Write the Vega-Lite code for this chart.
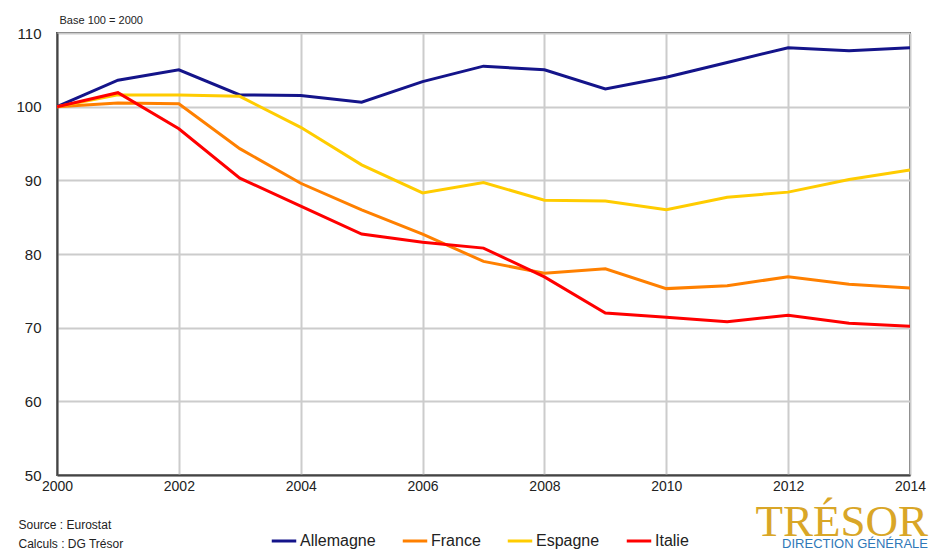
{
  "$schema": "https://vega.github.io/schema/vega-lite/v6.json",
  "width": 853,
  "height": 442,
  "autosize": {"type": "none"},
  "padding": {"left": 57, "top": 33, "right": 20, "bottom": 76},
  "background": "white",
  "config": {
    "font": "Liberation Sans",
    "view": {"stroke": "#555555", "strokeWidth": 2}
  },
  "title": {
    "text": "TRÉSOR",
    "subtitle": "DIRECTION GÉNÉRALE",
    "orient": "bottom",
    "anchor": "end",
    "frame": "group",
    "font": "Liberation Serif",
    "fontSize": 45,
    "fontWeight": "normal",
    "color": "#D9A627",
    "subtitleFont": "Liberation Sans",
    "subtitleFontSize": 13,
    "subtitleColor": "#2F78B8",
    "subtitlePadding": -7,
    "dx": 18,
    "dy": -53
  },
  "data": {
    "values": [
      {"annee": 2000, "pays": "Allemagne", "v": 100},
      {"annee": 2001, "pays": "Allemagne", "v": 103.6},
      {"annee": 2002, "pays": "Allemagne", "v": 105},
      {"annee": 2003, "pays": "Allemagne", "v": 101.6},
      {"annee": 2004, "pays": "Allemagne", "v": 101.5},
      {"annee": 2005, "pays": "Allemagne", "v": 100.6},
      {"annee": 2006, "pays": "Allemagne", "v": 103.4},
      {"annee": 2007, "pays": "Allemagne", "v": 105.5},
      {"annee": 2008, "pays": "Allemagne", "v": 105},
      {"annee": 2009, "pays": "Allemagne", "v": 102.4},
      {"annee": 2010, "pays": "Allemagne", "v": 104},
      {"annee": 2011, "pays": "Allemagne", "v": 106},
      {"annee": 2012, "pays": "Allemagne", "v": 108},
      {"annee": 2013, "pays": "Allemagne", "v": 107.6},
      {"annee": 2014, "pays": "Allemagne", "v": 108},
      {"annee": 2000, "pays": "France", "v": 100},
      {"annee": 2001, "pays": "France", "v": 100.5},
      {"annee": 2002, "pays": "France", "v": 100.4},
      {"annee": 2003, "pays": "France", "v": 94.3},
      {"annee": 2004, "pays": "France", "v": 89.6},
      {"annee": 2005, "pays": "France", "v": 86},
      {"annee": 2006, "pays": "France", "v": 82.7},
      {"annee": 2007, "pays": "France", "v": 79},
      {"annee": 2008, "pays": "France", "v": 77.4},
      {"annee": 2009, "pays": "France", "v": 78},
      {"annee": 2010, "pays": "France", "v": 75.3},
      {"annee": 2011, "pays": "France", "v": 75.7},
      {"annee": 2012, "pays": "France", "v": 76.9},
      {"annee": 2013, "pays": "France", "v": 75.9},
      {"annee": 2014, "pays": "France", "v": 75.4},
      {"annee": 2000, "pays": "Espagne", "v": 100},
      {"annee": 2001, "pays": "Espagne", "v": 101.6},
      {"annee": 2002, "pays": "Espagne", "v": 101.6},
      {"annee": 2003, "pays": "Espagne", "v": 101.4},
      {"annee": 2004, "pays": "Espagne", "v": 97.2},
      {"annee": 2005, "pays": "Espagne", "v": 92.1},
      {"annee": 2006, "pays": "Espagne", "v": 88.3},
      {"annee": 2007, "pays": "Espagne", "v": 89.7},
      {"annee": 2008, "pays": "Espagne", "v": 87.3},
      {"annee": 2009, "pays": "Espagne", "v": 87.2},
      {"annee": 2010, "pays": "Espagne", "v": 86},
      {"annee": 2011, "pays": "Espagne", "v": 87.7},
      {"annee": 2012, "pays": "Espagne", "v": 88.4},
      {"annee": 2013, "pays": "Espagne", "v": 90.1},
      {"annee": 2014, "pays": "Espagne", "v": 91.4},
      {"annee": 2000, "pays": "Italie", "v": 100},
      {"annee": 2001, "pays": "Italie", "v": 101.9},
      {"annee": 2002, "pays": "Italie", "v": 97},
      {"annee": 2003, "pays": "Italie", "v": 90.3},
      {"annee": 2004, "pays": "Italie", "v": 86.5},
      {"annee": 2005, "pays": "Italie", "v": 82.7},
      {"annee": 2006, "pays": "Italie", "v": 81.6},
      {"annee": 2007, "pays": "Italie", "v": 80.8},
      {"annee": 2008, "pays": "Italie", "v": 76.9},
      {"annee": 2009, "pays": "Italie", "v": 72},
      {"annee": 2010, "pays": "Italie", "v": 71.4},
      {"annee": 2011, "pays": "Italie", "v": 70.8},
      {"annee": 2012, "pays": "Italie", "v": 71.7},
      {"annee": 2013, "pays": "Italie", "v": 70.6},
      {"annee": 2014, "pays": "Italie", "v": 70.2}
    ]
  },
  "mark": {"type": "line", "strokeWidth": 3, "clip": true},
  "encoding": {
    "x": {
      "field": "annee",
      "type": "quantitative",
      "scale": {"domain": [2000, 2014], "nice": false, "zero": false},
      "axis": {
        "values": [2000, 2002, 2004, 2006, 2008, 2010, 2012, 2014],
        "format": "d",
        "labelFont": "Liberation Sans",
        "labelFontSize": 14,
        "labelColor": "#222222",
        "labelPadding": 4,
        "labelFlush": false,
        "ticks": false,
        "domainColor": "#444444",
        "domainWidth": 2,
        "grid": true,
        "gridColor": "#cccccc",
        "gridWidth": 2,
        "title": ["Source : Eurostat", "Calculs : DG Trésor"],
        "titleFont": "Liberation Sans",
        "titleFontSize": 12,
        "titleFontWeight": "normal",
        "titleColor": "#222222",
        "titleAlign": "left",
        "titleAnchor": "start",
        "titleBaseline": "top",
        "titleLineHeight": 19,
        "titleX": -39,
        "titleY": 44
      }
    },
    "y": {
      "field": "v",
      "type": "quantitative",
      "scale": {"domain": [50, 110], "nice": false, "zero": false},
      "axis": {
        "values": [50, 60, 70, 80, 90, 100, 110],
        "labelFont": "Liberation Sans",
        "labelFontSize": 15,
        "labelColor": "#222222",
        "labelPadding": 16,
        "labelFlush": false,
        "ticks": false,
        "domainColor": "#444444",
        "domainWidth": 2,
        "grid": true,
        "gridColor": "#cccccc",
        "gridWidth": 2,
        "title": "Base 100 = 2000",
        "titleFont": "Liberation Sans",
        "titleFontSize": 11,
        "titleFontWeight": "normal",
        "titleColor": "#222222",
        "titleAngle": 0,
        "titleAlign": "left",
        "titleBaseline": "bottom",
        "titleX": 2,
        "titleY": -8
      }
    },
    "color": {
      "field": "pays",
      "type": "nominal",
      "scale": {
        "domain": ["Allemagne", "France", "Espagne", "Italie"],
        "range": ["#14148a", "#FF8000", "#FFCC00", "#FF0000"]
      },
      "legend": {
        "title": null,
        "orient": "none",
        "direction": "horizontal",
        "legendX": 213,
        "legendY": 494,
        "symbolType": "stroke",
        "symbolStrokeWidth": 3,
        "symbolSize": 600,
        "labelFont": "Liberation Sans",
        "labelFontSize": 16,
        "labelColor": "#222222",
        "labelOffset": 2,
        "columnPadding": 20
      }
    }
  }
}
